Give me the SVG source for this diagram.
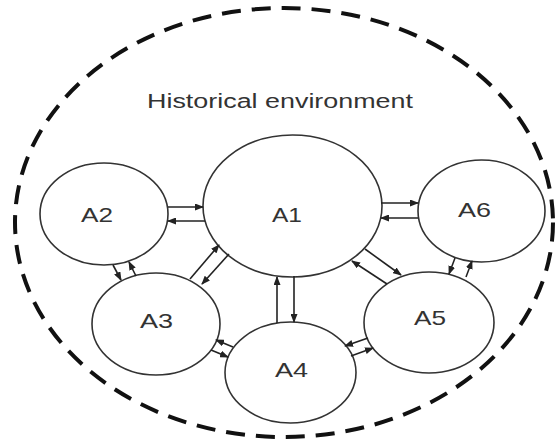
<svg xmlns="http://www.w3.org/2000/svg" width="556" height="442" viewBox="0 0 556 442">
<style>
.node{fill:#fff;stroke:#333;stroke-width:1.6}
.lbl{font-family:"Liberation Sans",Arial,sans-serif;font-size:21px;fill:#333}
.title{font-family:"Liberation Sans",Arial,sans-serif;font-size:19.5px;fill:#333}
.c{stroke:#222;stroke-width:1.6;fill:none;marker-end:url(#ah)}
</style>
<defs>
<marker id="ah" markerUnits="userSpaceOnUse" markerWidth="9" markerHeight="7" refX="8" refY="3.5" orient="auto">
<path d="M0,0 L9,3.5 L0,7 z" fill="#222"/>
</marker>
</defs>
<rect width="556" height="442" fill="#fff"/>
<g id="environment">
<ellipse cx="284" cy="222.5" rx="269" ry="214.5" fill="none" stroke="#111" stroke-width="4" stroke-dasharray="19 11"/>
<text class="title" x="147" y="108" textLength="266" lengthAdjust="spacingAndGlyphs">Historical environment</text>
</g>
<g id="A1"><ellipse class="node" cx="292.5" cy="206" rx="89.5" ry="71"/><text class="lbl" x="272" y="222" textLength="30" lengthAdjust="spacingAndGlyphs">A1</text></g>
<g id="A2"><ellipse class="node" cx="104" cy="214" rx="64" ry="51"/><text class="lbl" x="81" y="222" textLength="32" lengthAdjust="spacingAndGlyphs">A2</text></g>
<g id="A6"><ellipse class="node" cx="481.5" cy="211" rx="63.5" ry="51"/><text class="lbl" x="458" y="217" textLength="33" lengthAdjust="spacingAndGlyphs">A6</text></g>
<g id="A3"><ellipse class="node" cx="156" cy="324" rx="64" ry="51"/><text class="lbl" x="140" y="328" textLength="33" lengthAdjust="spacingAndGlyphs">A3</text></g>
<g id="A4"><ellipse class="node" cx="290.5" cy="372.5" rx="65.5" ry="50.5"/><text class="lbl" x="275" y="377" textLength="33" lengthAdjust="spacingAndGlyphs">A4</text></g>
<g id="A5"><ellipse class="node" cx="429" cy="322.5" rx="65" ry="50.5"/><text class="lbl" x="414" y="325" textLength="32" lengthAdjust="spacingAndGlyphs">A5</text></g>
<g id="connectors">
<line class="c" x1="168" y1="207" x2="203" y2="207"/>
<line class="c" x1="205" y1="221" x2="168" y2="221"/>
<line class="c" x1="381" y1="203" x2="418" y2="203"/>
<line class="c" x1="418" y1="218" x2="381" y2="218"/>
<line class="c" x1="190" y1="279" x2="219" y2="245"/>
<line class="c" x1="229" y1="254" x2="202" y2="284"/>
<line class="c" x1="277" y1="323" x2="277" y2="277"/>
<line class="c" x1="294" y1="276" x2="294" y2="322"/>
<line class="c" x1="365" y1="249" x2="401" y2="275"/>
<line class="c" x1="387" y1="284" x2="352" y2="261"/>
<line class="c" x1="113" y1="265" x2="121" y2="280"/>
<line class="c" x1="136" y1="276" x2="129" y2="262"/>
<line class="c" x1="233" y1="347" x2="216" y2="340"/>
<line class="c" x1="211" y1="350" x2="228" y2="357"/>
<line class="c" x1="368" y1="338" x2="345" y2="346"/>
<line class="c" x1="351" y1="356" x2="373" y2="348"/>
<line class="c" x1="455" y1="258" x2="449" y2="274"/>
<line class="c" x1="466" y1="277" x2="472" y2="261"/>
</g>
</svg>
